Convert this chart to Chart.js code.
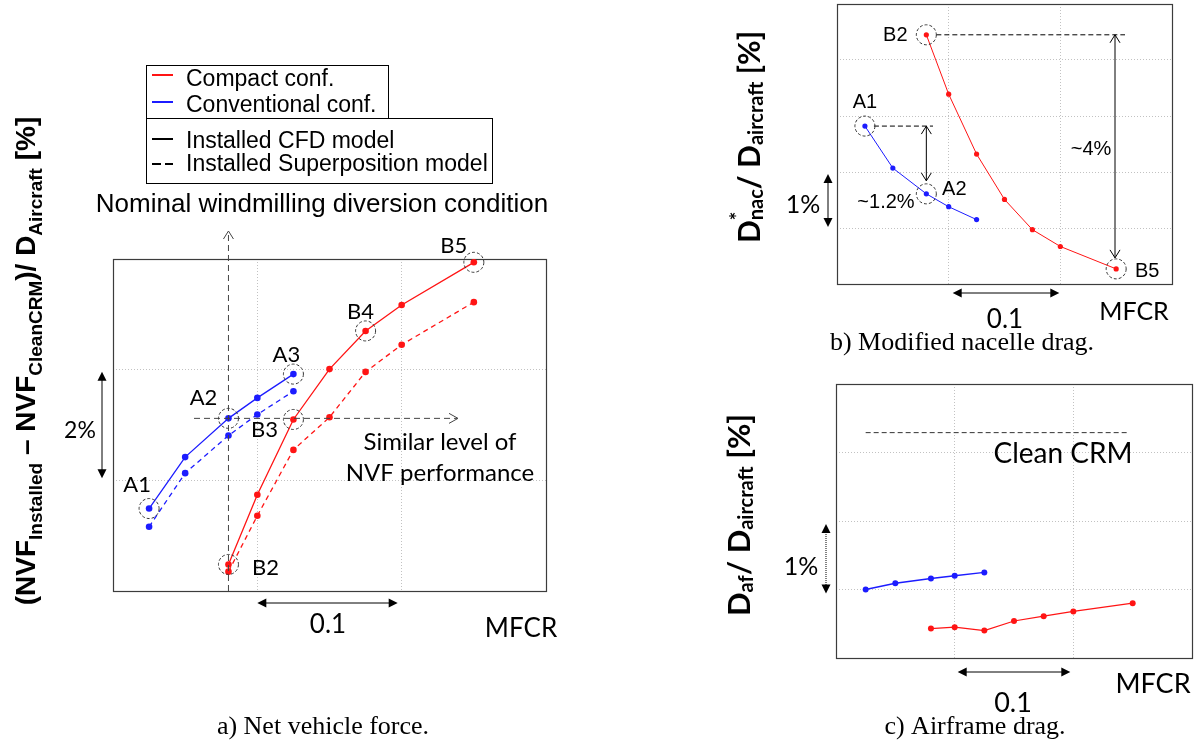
<!DOCTYPE html>
<html>
<head>
<meta charset="utf-8">
<script src="https://cdn.jsdelivr.net/npm/chart.js@4.4.1/dist/chart.umd.min.js"></script>
<style>
  html, body { margin: 0; padding: 0; background: #fff; }
  body { width: 1196px; height: 746px; position: relative; overflow: hidden; }
  canvas { position: absolute; left: 0; top: 0; }
</style>
</head>
<body>
<canvas id="nvf" width="1196" height="746"></canvas>
<canvas id="nac" width="1196" height="746"></canvas>
<canvas id="af" width="1196" height="746"></canvas>
<script>
// MFCR of the operating points (A = conventional, B = compact)
const mfcrConv = [0.425, 0.45, 0.48, 0.50, 0.525];
const mfcrCompact = [0.48, 0.50, 0.525, 0.55, 0.575, 0.60, 0.65];

// a) net vehicle force, % of aircraft drag (arbitrary origin, 2% per grid)
const nvfConvCfd = [1.49, 2.42, 3.12, 3.49, 3.92];
const nvfConvSup = [1.16, 2.13, 2.81, 3.19, 3.61];
const nvfCompactCfd = [0.48, 1.74, 3.10, 4.01, 4.70, 5.17, 5.94];
const nvfCompactSup = [0.35, 1.36, 2.55, 3.14, 3.96, 4.45, 5.22];

// b) modified nacelle drag (1% per grid)
const nacConv = [2.82, 2.07, 1.61, 1.38, 1.15];
const nacCompact = [4.45, 3.39, 2.32, 1.51, 0.97, 0.67, 0.27];

// c) airframe drag (1% per grid)
const afConv = [1.00, 1.09, 1.16, 1.20, 1.25];
const afCompact = [0.43, 0.45, 0.40, 0.54, 0.61, 0.68, 0.80];
const cleanCrm = 3.29;

const W = 1196, H = 746;
const RED = '#ff1414';
const BLUE = '#1c1cff';
const GRID = '#c2c2c2';
const CALIBRI = 'Lato, "Open Sans", sans-serif';
const ARIAL = '"Liberation Sans", Arial, sans-serif';
const TIMES = '"Liberation Serif", "Times New Roman", serif';

function series(xs, ys, color, dashed, r, lw) {
  return {
    data: xs.map((x, i) => ({ x, y: ys[i] })),
    borderColor: color,
    backgroundColor: color,
    showLine: true,
    borderWidth: lw,
    borderDash: dashed ? [5, 4] : [],
    pointRadius: r,
    pointBorderWidth: 0,
    tension: 0,
  };
}

// ---- small drawing helpers ----
function seg(ctx, x1, y1, x2, y2, dash, color, lw) {
  ctx.save();
  ctx.strokeStyle = color || '#000';
  ctx.lineWidth = lw || 1;
  ctx.setLineDash(dash || []);
  ctx.beginPath();
  ctx.moveTo(x1, y1);
  ctx.lineTo(x2, y2);
  ctx.stroke();
  ctx.restore();
}

function head(ctx, x, y, ang, len, half, filled, color) {
  const c = Math.cos(ang), s = Math.sin(ang);
  const bx = x - c * len, by = y - s * len;
  ctx.save();
  ctx.setLineDash([]);
  ctx.strokeStyle = ctx.fillStyle = color || '#000';
  ctx.lineWidth = 1;
  ctx.beginPath();
  ctx.moveTo(bx - s * half, by + c * half);
  ctx.lineTo(x, y);
  ctx.lineTo(bx + s * half, by - c * half);
  if (filled) { ctx.closePath(); ctx.fill(); } else { ctx.stroke(); }
  ctx.restore();
}

// double arrow
function span(ctx, x1, y1, x2, y2, filled, dash) {
  const ang = Math.atan2(y2 - y1, x2 - x1);
  const inset = filled ? 6 : 0;
  seg(ctx, x1 + Math.cos(ang) * inset, y1 + Math.sin(ang) * inset,
    x2 - Math.cos(ang) * inset, y2 - Math.sin(ang) * inset, dash, '#000', 1);
  head(ctx, x2, y2, ang, filled ? 9 : 8, filled ? 4.5 : 5, filled);
  head(ctx, x1, y1, ang + Math.PI, filled ? 9 : 8, filled ? 4.5 : 5, filled);
}

function ring(ctx, x, y, r) {
  ctx.save();
  ctx.strokeStyle = '#333';
  ctx.lineWidth = 1;
  ctx.setLineDash([3, 2]);
  ctx.beginPath();
  ctx.arc(x, y, r, 0, Math.PI * 2);
  ctx.stroke();
  ctx.restore();
}

function label(ctx, str, x, y, font, align) {
  ctx.save();
  ctx.font = font;
  ctx.fillStyle = '#000';
  ctx.textAlign = align || 'center';
  ctx.textBaseline = 'alphabetic';
  ctx.fillText(str, x, y);
  ctx.restore();
}

// rotated title with sub/superscripts: parts = [text, font, dy, noAdvance]
function richTitle(ctx, bx, cy, parts) {
  let total = 0;
  parts.forEach(p => { ctx.font = p[1]; if (!p[3]) total += ctx.measureText(p[0]).width; });
  ctx.save();
  ctx.translate(bx, cy);
  ctx.rotate(-Math.PI / 2);
  ctx.fillStyle = '#000';
  ctx.textAlign = 'left';
  ctx.textBaseline = 'alphabetic';
  let pos = -total / 2;
  parts.forEach(p => {
    ctx.font = p[1];
    ctx.fillText(p[0], pos, p[2]);
    if (!p[3]) pos += ctx.measureText(p[0]).width;
  });
  ctx.restore();
}

const frame = {
  id: 'frame',
  beforeDatasetsDraw(chart) {
    const { ctx, chartArea: a } = chart;
    ctx.save();
    ctx.strokeStyle = '#3c3c3c';
    ctx.lineWidth = 1.2;
    ctx.strokeRect(Math.round(a.left) + 0.5, Math.round(a.top) + 0.5,
      Math.round(a.right - a.left), Math.round(a.bottom - a.top));
    ctx.restore();
  },
};

function makeChart(id, area, yMax, yStep, datasets, notes) {
  return new Chart(document.getElementById(id), {
    type: 'scatter',
    data: { datasets },
    options: {
      responsive: false,
      animation: false,
      events: [],
      layout: {
        padding: { left: area.left, top: area.top, right: W - area.right, bottom: H - area.bottom },
      },
      plugins: { legend: { display: false }, tooltip: { enabled: false } },
      scales: {
        x: {
          type: 'linear', min: 0.4, max: 0.7,
          ticks: { display: false, stepSize: 0.1 },
          grid: { color: GRID, drawTicks: false },
          border: { display: false, dash: [1, 2] },
        },
        y: {
          type: 'linear', min: 0, max: yMax,
          ticks: { display: false, stepSize: yStep },
          grid: { color: GRID, drawTicks: false },
          border: { display: false, dash: [1, 2] },
        },
      },
    },
    plugins: [frame, notes],
  });
}

// ---------- a) Net vehicle force ----------
const nvfNotes = {
  id: 'nvfNotes',
  afterDraw(chart) {
    const { ctx, chartArea: a, scales: { x, y } } = chart;
    const px = v => x.getPixelForValue(v), py = v => y.getPixelForValue(v);

    // nominal windmilling diversion condition (at A2/B2 MFCR)
    const xNom = px(mfcrConv[2]);
    seg(ctx, xNom, a.bottom, xNom, 232, [6, 4], '#444', 1);
    head(ctx, xNom, 231, -Math.PI / 2, 8, 5, false, '#444');
    label(ctx, 'Nominal windmilling diversion condition', 322, 212, '26px ' + ARIAL);

    // similar level of NVF performance
    const yLvl = py(nvfConvCfd[2]);
    seg(ctx, 194, yLvl, 457, yLvl, [6, 4], '#444', 1);
    head(ctx, 458, yLvl, 0, 9, 5, false, '#444');
    label(ctx, 'Similar level of', 440, 450, '24px ' + CALIBRI);
    label(ctx, 'NVF performance', 440, 481, '24px ' + CALIBRI);

    // circled points and their names
    const f = '22px ' + CALIBRI;
    [[0, 'A1', -12, -17], [2, 'A2', -25, -13], [4, 'A3', -7, -12]].forEach(([i, t, dx, dy]) => {
      const X = px(mfcrConv[i]), Y = py(nvfConvCfd[i]);
      ring(ctx, X, Y, 10);
      label(ctx, t, X + dx, Y + dy, f);
    });
    [[0, 'B2', 37, 11], [2, 'B3', -29, 18], [4, 'B4', -5, -12], [6, 'B5', -20, -9]].forEach(([i, t, dx, dy]) => {
      const X = px(mfcrCompact[i]), Y = py(nvfCompactCfd[i]);
      ring(ctx, X, Y, 10);
      label(ctx, t, X + dx, Y + dy, f);
    });

    // scale bars
    span(ctx, 102, py(4) + 2, 102, py(2) - 2, true);
    label(ctx, '2%', 80, 438, '23px ' + CALIBRI);
    span(ctx, px(0.5), 603, px(0.6) - 4, 603, true);
    label(ctx, '0.1', 328, 633, '26px ' + CALIBRI);
    label(ctx, 'MFCR', 521, 637, '26px ' + CALIBRI);

    // legend
    ctx.save();
    ctx.strokeStyle = '#000';
    ctx.lineWidth = 1;
    ctx.strokeRect(146.5, 65.5, 242, 53);
    ctx.strokeRect(146.5, 118.5, 346, 65);
    ctx.restore();
    const lf = '23px ' + ARIAL;
    seg(ctx, 152, 75, 173, 75, [], RED, 2);
    label(ctx, 'Compact conf.', 186, 86, lf, 'left');
    seg(ctx, 152, 102, 173, 102, [], BLUE, 2);
    label(ctx, 'Conventional conf.', 186, 112, lf, 'left');
    seg(ctx, 152, 139, 173, 139, [], '#000', 2);
    label(ctx, 'Installed CFD model', 186, 148, lf, 'left');
    seg(ctx, 152, 164, 161, 164, [], '#000', 2);
    seg(ctx, 165, 164, 173, 164, [], '#000', 2);
    label(ctx, 'Installed Superposition model', 186, 171, lf, 'left');

    // axis title
    const big = 'bold 28px ' + ARIAL, sub = 'bold 19px ' + ARIAL;
    richTitle(ctx, 35, 361, [
      ['(NVF', big, 0], ['Installed', sub, 7], [' \u2013 NVF', big, 0], ['CleanCRM', sub, 7],
      [')/ D', big, 0], ['Aircraft', sub, 7], [' [%]', big, 0],
    ]);

    label(ctx, 'a) Net vehicle force.', 323, 734, '26px ' + TIMES);
  },
};

makeChart('nvf', { left: 113, top: 259, right: 546, bottom: 591 }, 6, 2, [
  series(mfcrConv, nvfConvCfd, BLUE, false, 3.3, 1.3),
  series(mfcrConv, nvfConvSup, BLUE, true, 3.3, 1.3),
  series(mfcrCompact, nvfCompactCfd, RED, false, 3.3, 1.3),
  series(mfcrCompact, nvfCompactSup, RED, true, 3.3, 1.3),
], nvfNotes);

// ---------- b) Modified nacelle drag ----------
const nacNotes = {
  id: 'nacNotes',
  afterDraw(chart) {
    const { ctx, scales: { x, y } } = chart;
    const px = v => x.getPixelForValue(v), py = v => y.getPixelForValue(v);
    const f = '20px ' + ARIAL;

    const a1x = px(mfcrConv[0]), a1y = py(nacConv[0]);
    const a2x = px(mfcrConv[2]), a2y = py(nacConv[2]);
    const b2x = px(mfcrCompact[0]), b2y = py(nacCompact[0]);
    const b5x = px(mfcrCompact[6]), b5y = py(nacCompact[6]);

    seg(ctx, b2x + 10, b2y, 1125, b2y, [5, 3], '#000', 1);
    span(ctx, 1115, b2y, 1115, b5y - 11, false);
    label(ctx, '~4%', 1091, 155, f);

    seg(ctx, a1x + 9, a1y, 933, a1y, [5, 3], '#000', 1);
    span(ctx, a2x, a1y, a2x, a2y - 13, false);
    label(ctx, '~1.2%', 886, 208, f);

    [[a1x, a1y, 'A1', 0, -18], [a2x, a2y, 'A2', 28, 1], [b2x, b2y, 'B2', -31, 6], [b5x, b5y, 'B5', 31, 8]]
      .forEach(([X, Y, t, dx, dy]) => {
        ring(ctx, X, Y, 10);
        label(ctx, t, X + dx, Y + dy, f);
      });

    span(ctx, 828, py(2) + 2, 828, py(1) - 1, true);
    label(ctx, '1%', 803, 213, '25px ' + CALIBRI);
    span(ctx, px(0.5) + 4, 293, px(0.6) - 1, 293, true);
    label(ctx, '0.1', 1005, 328, '26px ' + CALIBRI);
    label(ctx, 'MFCR', 1134, 320, '25px ' + CALIBRI);

    const big = 'bold 30px ' + CALIBRI, sub = 'bold 20px ' + CALIBRI;
    richTitle(ctx, 760, 137, [
      ['D', big, 0], ['*', sub, -15, true], ['nac', sub, 3], ['/ D', big, 0], ['aircraft', sub, 3], [' [%]', big, 0],
    ]);

    label(ctx, 'b) Modified nacelle drag.', 962, 350, '26px ' + TIMES);
  },
};

makeChart('nac', { left: 837, top: 3, right: 1172, bottom: 284 }, 5, 1, [
  series(mfcrConv, nacConv, BLUE, false, 2.6, 1),
  series(mfcrCompact, nacCompact, RED, false, 2.6, 1),
], nacNotes);

// ---------- c) Airframe drag ----------
const afNotes = {
  id: 'afNotes',
  afterDraw(chart) {
    const { ctx, scales: { x, y } } = chart;
    const px = v => x.getPixelForValue(v), py = v => y.getPixelForValue(v);

    seg(ctx, px(mfcrConv[0]), py(cleanCrm), px(mfcrCompact[6]) - 3, py(cleanCrm), [5, 3], '#333', 1);
    label(ctx, 'Clean CRM', 1063, 463, '28px ' + CALIBRI);

    span(ctx, 826, py(2) + 3, 826, py(1) + 4, true, [1, 1]);
    label(ctx, '1%', 801, 575, '25px ' + CALIBRI);
    span(ctx, px(0.5) + 3, 672, px(0.6) - 3, 672, true);
    label(ctx, '0.1', 1013, 712, '27px ' + CALIBRI);
    label(ctx, 'MFCR', 1153, 693, '27px ' + CALIBRI);

    const big = 'bold 31px ' + CALIBRI, sub = 'bold 20px ' + CALIBRI;
    richTitle(ctx, 750, 515, [
      ['D', big, 0], ['af', sub, 3], ['/ D', big, 0], ['aircraft', sub, 3], [' [%]', big, 0],
    ]);

    label(ctx, 'c) Airframe drag.', 975, 734, '26px ' + TIMES);
  },
};

makeChart('af', { left: 836, top: 384, right: 1192, bottom: 658 }, 4, 1, [
  series(mfcrConv, afConv, BLUE, false, 3, 1.5),
  series(mfcrCompact, afCompact, RED, false, 3, 1.2),
], afNotes);
</script>
</body>
</html>
